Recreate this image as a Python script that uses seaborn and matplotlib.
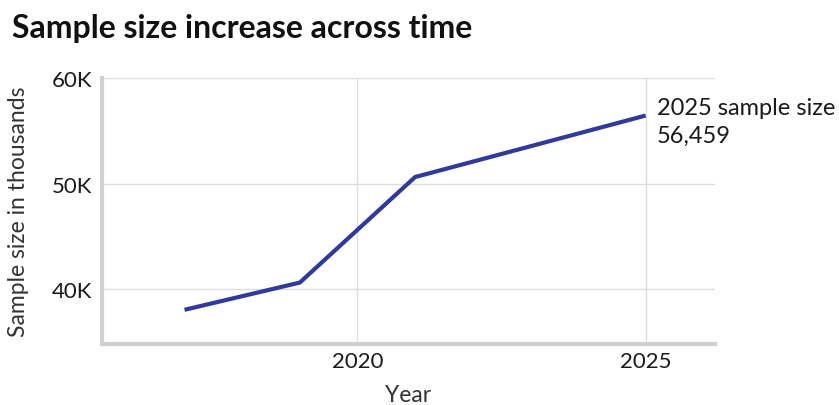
import matplotlib
matplotlib.use("Agg")
import matplotlib.pyplot as plt
import seaborn as sns
import pandas as pd
from matplotlib.ticker import FuncFormatter

# Sample sizes by survey year
years = [2017, 2019, 2021, 2025]
sample_sizes = [38050, 40630, 50630, 56459]
x_ticks = [2020, 2025]
y_ticks = [40000, 50000, 60000]

df = pd.DataFrame({"Year": years, "Sample size": sample_sizes})

sns.set_theme(style="whitegrid")
plt.rcParams["font.family"] = ["Lato", "DejaVu Sans"]

fig = plt.figure(figsize=(8.39, 4.06), dpi=100)
ax = fig.add_axes([0.121, 0.150, 0.731, 0.655])

sns.lineplot(data=df, x="Year", y="Sample size", ax=ax,
             color="#2f3a9c", linewidth=3.0, solid_capstyle="butt")

ax.set_xlim(2015.56, 2026.2)
ax.set_ylim(34800, 60000)
ax.set_xticks(x_ticks)
ax.set_yticks(y_ticks)
ax.yaxis.set_major_formatter(FuncFormatter(lambda v, _: f"{int(v/1000)}K"))

ax.grid(True, color="#dedede", linewidth=1.0)
for side in ("top", "right"):
    ax.spines[side].set_visible(False)
for side in ("left", "bottom"):
    ax.spines[side].set_color("#d0d0d0")
    ax.spines[side].set_linewidth(3.0)

ax.tick_params(axis="both", labelsize=16, colors="#1a1a1a", length=0)
ax.tick_params(axis="x", pad=5)
ax.tick_params(axis="y", pad=7)
ax.set_xlabel("Year", fontsize=16.5, color="#333333", labelpad=9)
ax.set_ylabel("Sample size in thousands", fontsize=16.5, color="#333333", labelpad=16)

# Label the latest point with its value
last_year, last_val = years[-1], sample_sizes[-1]
ax.annotate(f"{last_year} sample size\n{last_val:,}", xy=(last_year, last_val),
            xytext=(8, -4), textcoords="offset points", ha="left", va="center",
            fontsize=17, color="#1a1a1a", linespacing=1.4, annotation_clip=False)

fig.text(0.014, 0.93, "Sample size increase across time", fontsize=23,
         fontweight="bold", color="#111111", ha="left", va="center")

fig.savefig("out.png", dpi=100, facecolor="white")
